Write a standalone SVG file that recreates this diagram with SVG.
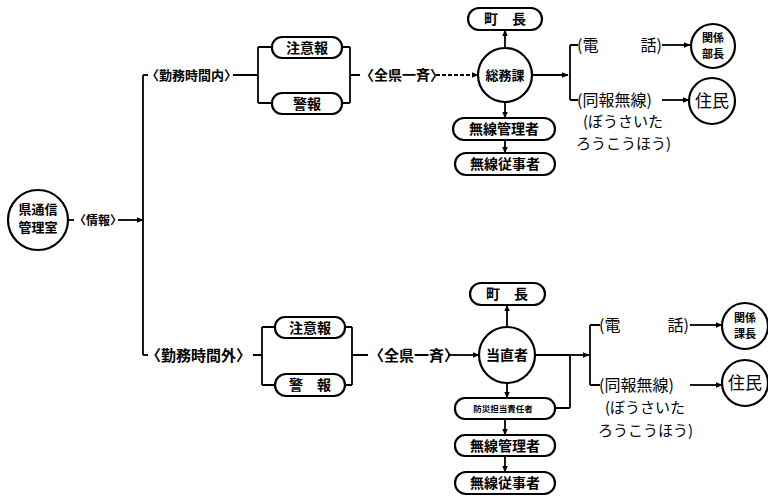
<svg xmlns="http://www.w3.org/2000/svg" width="768" height="500" viewBox="0 0 768 500">
<defs>
<marker id="ar" viewBox="0 0 10 10" refX="9" refY="5" markerWidth="7" markerHeight="7" markerUnits="userSpaceOnUse" orient="auto"><path d="M0,1 L10,5 L0,9 z" fill="#000"/></marker>
<style>
.ln{fill:none;stroke:#000;stroke-width:1.8}
.nd{fill:#fff;stroke:#000;stroke-width:2.2}
text{font-family:"Noto Sans CJK JP","Noto Sans CJK SC",sans-serif;font-weight:bold;fill:#000}
.t{font-size:14px}
.tc{font-size:14px;text-anchor:middle}
.s{font-size:11px;text-anchor:middle}
.xs{font-size:8.5px;text-anchor:middle}
.lt{font-weight:normal;font-size:15px}
.rt{text-anchor:end}
</style>
</defs>
<rect width="768" height="500" fill="#fff"/>
<g id="connectors">
<path class="ln" d="M68,220 H74"/>
<path class="ln" d="M118,220 H143" marker-end="url(#ar)"/>
<path class="ln" d="M143,75 V355"/>
<path class="ln" d="M143,75 H148"/>
<path class="ln" d="M143,355 H148"/>
<path class="ln" d="M233,75 H258 M258,47 V103 M258,47 H272 M258,103 H272 M342,47 H350 M342,103 H350 M350,47 V103 M350,75 H360"/>
<path class="ln" d="M436,75 H478" stroke-dasharray="4,2" marker-end="url(#ar)"/>
<path class="ln" d="M505,48 V30" marker-end="url(#ar)"/>
<path class="ln" d="M505,102 V118" marker-end="url(#ar)"/>
<path class="ln" d="M505,140 V153" marker-end="url(#ar)"/>
<path class="ln" d="M532,75 H568" marker-end="url(#ar)"/>
<path class="ln" d="M570,45 V100 M570,45 H578 M570,100 H578"/>
<path class="ln" d="M662,45 H690" marker-end="url(#ar)"/>
<path class="ln" d="M662,100 H689" marker-end="url(#ar)"/>
<path class="ln" d="M253,355 H262 M262,327 V385 M262,327 H275 M262,385 H275 M345,327 H352 M345,385 H352 M352,327 V385 M352,355 H368"/>
<path class="ln" d="M448,355 H479" marker-end="url(#ar)"/>
<path class="ln" d="M507,327 V305" marker-end="url(#ar)"/>
<path class="ln" d="M507,383 V398" marker-end="url(#ar)"/>
<path class="ln" d="M505,419 V435" marker-end="url(#ar)"/>
<path class="ln" d="M505,456 V472" marker-end="url(#ar)"/>
<path class="ln" d="M535,355 H570 M570,355 V408 M555,408 H570"/>
<path class="ln" d="M570,355 H589" marker-end="url(#ar)"/>
<path class="ln" d="M590,325 V385 M590,325 H600 M590,385 H600"/>
<path class="ln" d="M690,325 H722" marker-end="url(#ar)"/>
<path class="ln" d="M690,385 H722" marker-end="url(#ar)"/>
</g>
<g id="n-kenstation"><circle class="nd" cx="38" cy="220" r="30"/><text class="s" x="38" y="214" style="font-size:13px">県通信</text><text class="s" x="38" y="232" style="font-size:13px">管理室</text></g>
<g id="l-joho"><text class="t" x="74" y="225" style="font-size:12px">〈情報〉</text></g>
<g id="l-kinmunai"><text class="t" x="146" y="80" style="font-size:13px">〈勤務時間内〉</text></g>
<g id="n-chui1"><rect class="nd" x="272" y="37" width="70" height="21" rx="10"/><text class="tc" x="307" y="53">注意報</text></g>
<g id="n-keiho1"><rect class="nd" x="272" y="93" width="70" height="21" rx="10"/><text class="tc" x="307" y="109">警報</text></g>
<g id="l-zenken1"><text class="t" x="360" y="80">〈全県一斉〉</text></g>
<g id="n-somuka"><circle class="nd" cx="505" cy="75" r="27"/><text class="s" x="505" y="80" style="font-size:13px">総務課</text></g>
<g id="n-chocho1"><rect class="nd" x="468" y="8" width="74" height="22" rx="11"/><text class="tc" x="505" y="24" xml:space="preserve">町　長</text></g>
<g id="n-musenkanri1"><rect class="nd" x="453" y="118" width="102" height="22" rx="11"/><text class="tc" x="504" y="134">無線管理者</text></g>
<g id="n-musenjuji1"><rect class="nd" x="455" y="153" width="100" height="22" rx="11"/><text class="tc" x="505" y="169">無線従事者</text></g>
<g id="l-denwa1"><text class="t lt" x="577" y="51" style="font-size:16px">(電</text><text class="t lt rt" x="662" y="51" style="font-size:16px">話)</text></g>
<g id="l-doho1"><text class="t lt" x="577" y="106" style="font-size:16px">(同報無線)</text><text class="t lt" x="583" y="127">(ぼうさいた</text><text class="t lt" x="576" y="149">ろうこうほう)</text></g>
<g id="n-kankeibucho"><circle class="nd" cx="713" cy="46" r="22"/><text class="s" x="713" y="42">関係</text><text class="s" x="713" y="57.5">部長</text></g>
<g id="n-jumin1"><circle class="nd" cx="712" cy="101" r="23"/><text class="tc" x="712" y="107" style="font-size:17px;font-weight:normal">住民</text></g>
<g id="l-kinmugai"><text class="t" x="146" y="361" style="font-size:15px">〈勤務時間外〉</text></g>
<g id="n-chui2"><rect class="nd" x="275" y="317" width="70" height="21" rx="10"/><text class="tc" x="310" y="333">注意報</text></g>
<g id="n-keiho2"><rect class="nd" x="275" y="374" width="70" height="22" rx="11"/><text class="tc" x="310" y="390" xml:space="preserve">警　報</text></g>
<g id="l-zenken2"><text class="t" x="369" y="361" style="font-size:15px">〈全県一斉〉</text></g>
<g id="n-tochoku"><circle class="nd" cx="507" cy="355" r="28"/><text class="s" x="507" y="360" style="font-size:14px">当直者</text></g>
<g id="n-chocho2"><rect class="nd" x="470" y="283" width="75" height="22" rx="11"/><text class="tc" x="507" y="299" xml:space="preserve">町　長</text></g>
<g id="n-bosai"><rect class="nd" x="455" y="398" width="100" height="21" rx="10"/><text class="xs" x="503" y="412">防災担当責任者</text></g>
<g id="n-musenkanri2"><rect class="nd" x="455" y="435" width="100" height="21" rx="10"/><text class="tc" x="505" y="451">無線管理者</text></g>
<g id="n-musenjuji2"><rect class="nd" x="455" y="472" width="100" height="22" rx="11"/><text class="tc" x="505" y="488">無線従事者</text></g>
<g id="l-denwa2"><text class="t lt" x="599" y="331" style="font-size:16px">(電</text><text class="t lt rt" x="689" y="331" style="font-size:16px">話)</text></g>
<g id="l-doho2"><text class="t lt" x="599" y="391" style="font-size:16px">(同報無線)</text><text class="t lt" x="605" y="413">(ぼうさいた</text><text class="t lt" x="598" y="436">ろうこうほう)</text></g>
<g id="n-kankeikacho"><circle class="nd" cx="745" cy="326" r="23"/><text class="s" x="745" y="322">関係</text><text class="s" x="745" y="337.5">課長</text></g>
<g id="n-jumin2"><circle class="nd" cx="745" cy="383" r="23"/><text class="tc" x="745" y="389" style="font-size:17px;font-weight:normal">住民</text></g>
</svg>
